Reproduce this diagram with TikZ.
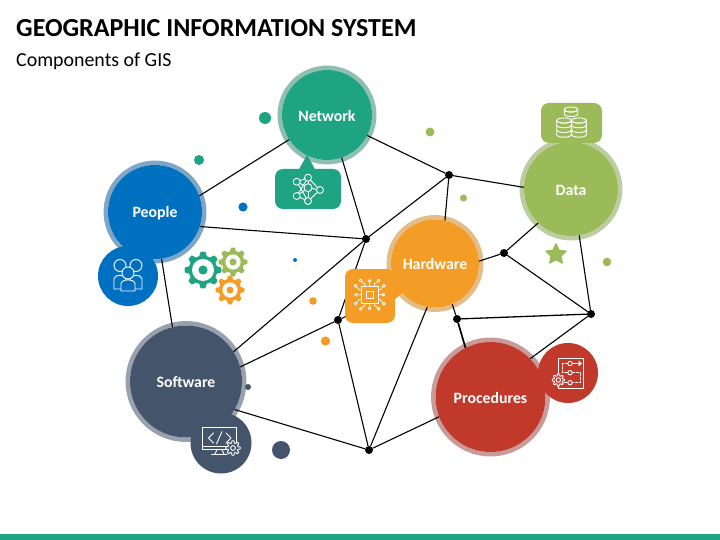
\documentclass[tikz,border=0pt]{standalone}
\usepackage{fontspec}
\setmainfont{Carlito}
\usetikzlibrary{shapes.geometric}
\pgfdeclarelayer{background}
\pgfsetlayers{background,main}
\definecolor{cnet}{HTML}{1FA483}\definecolor{rnet}{HTML}{8FBFB1}
\definecolor{cpeo}{HTML}{0070C0}\definecolor{rpeo}{HTML}{7FA6C6}
\definecolor{cdat}{HTML}{9BBB59}\definecolor{rdat}{HTML}{BCCCA3}
\definecolor{char}{HTML}{F39C26}\definecolor{rhar}{HTML}{E3BC88}
\definecolor{csof}{HTML}{44546A}\definecolor{rsof}{HTML}{98A1AD}
\definecolor{cpro}{HTML}{C0392B}\definecolor{rpro}{HTML}{C79B98}
\tikzset{
  comp/.style n args={2}{circle,fill=#2,minimum size=2*#1 pt,inner sep=0pt,outer sep=0pt,text=white,font=\fontsize{15.8}{15.8}\selectfont\bfseries},
  junction/.style={circle,fill=black,minimum size=8pt,inner sep=0pt,outer sep=0pt},
  link/.style={draw=black,line width=1.1pt},
  bubble/.style={rectangle,rounded corners=8pt,inner sep=0pt,outer sep=0pt},
  iconline/.style={draw=white,line width=0.9pt,line cap=round,line join=round},
  ring/.style={line width=4.5pt}
}
\newcommand{\lab}[1]{\raisebox{-1pt}[\height][\depth]{#1}}
% gear: cx cy mean-radius tooth-amplitude teeth
\newcommand{\gearplot}[5]{plot[domain=0:360,samples=145,variable=\t]
  ({#1+(#3+#4*max(-1,min(1,2*cos(#5*\t))))*cos(\t)},{#2+(#3+#4*max(-1,min(1,2*cos(#5*\t))))*sin(\t)}) -- cycle}
% solid gear: cx cy R amp ringR dotR colour
\newcommand{\solidgear}[7]{%
  \fill[#7] \gearplot{#1}{#2}{#3}{#4}{8};
  \fill[white] (#1,#2) circle (#5);
  \fill[#7] (#1,#2) circle (#6);}
% coin stack: cx topy rx ry layerh layers
\newcommand{\coinstack}[6]{%
  \pgfmathsetmacro{\xl}{#1-#3}\pgfmathsetmacro{\xr}{#1+#3}
  \pgfmathsetmacro{\yb}{#2+#5*#6}
  \draw[iconline,fill=cdat] (\xl,#2) -- (\xl,\yb) .. controls (\xl,\yb+1.33*#4) and (\xr,\yb+1.33*#4) .. (\xr,\yb) -- (\xr,#2);
  \draw[iconline,fill=cdat] (#1,#2) ellipse (#3 and #4);
  \foreach \k in {1,...,#6}{
    \pgfmathsetmacro{\yy}{#2+#5*\k-#5}
    \draw[iconline] (\xl,\yy) .. controls (\xl,\yy+1.33*#4) and (\xr,\yy+1.33*#4) .. (\xr,\yy);
  }}
\begin{document}
\begin{tikzpicture}[x=1pt,y=-1pt]
\useasboundingbox (0,0) rectangle (720,540);
\fill[cnet] (0,534) rectangle (720,540);
\node[anchor=base west,inner sep=0pt,font=\fontsize{26}{26}\selectfont\bfseries] (title) at (16,37) {GEOGRAPHIC INFORMATION SYSTEM};
\node[anchor=base west,inner sep=0pt,font=\fontsize{19.9}{19.9}\selectfont] (subtitle) at (16,66.7) {Components of GIS};

% components
\node[comp={45}{cnet}] (network) at (327,115) {\lab{Network}};
\node[comp={47}{cpeo}] (people) at (155,212) {\lab{People}};
\node[comp={47}{cdat}] (data) at (571,189) {\lab{Data}};
\node[comp={44}{char}] (hardware) at (435,263.5) {\lab{Hardware}};
\node[comp={56}{csof}] (software) at (186,381.5) {\lab{Software}};
\node[comp={55}{cpro}] (procedures) at (490.5,397) {\lab{Procedures}};

% junctions
\node[junction] (j1) at (366,239) {};
\node[junction] (j2) at (449,175) {};
\node[junction] (j3) at (504,253) {};
\node[junction] (j4) at (591,314) {};
\node[junction] (j5) at (457,319) {};
\node[junction] (j6) at (338,320) {};
\node[junction] (j7) at (369,450) {};

\begin{pgfonlayer}{background}
\draw[ring,rnet] (network.center) circle (47.2);
\draw[ring,rpeo] (people.center) circle (49.2);
\draw[ring,rdat] (data.center) circle (49.2);
\draw[ring,rhar] (hardware.center) circle (46.2);
\draw[ring,rsof] (software.center) circle (58.2);
\draw[ring,rpro] (procedures.center) circle (57.2);
\draw[link] (people.20) -- (network.213);
\draw[link] (network.289) -- (j1);
\draw[link] (network.-27) -- (j2);
\draw[link] (data.178) -- (j2);
\draw[link] (hardware.77) -- (j2);
\draw[link] (j1) -- (j2);
\draw[link] (people.-18) -- (j1);
\draw[link] (j1) -- (j6);
\draw[link] (software.32) -- (j1);
\draw[link] (software.15) -- (j6);
\draw[link] (software.-30) -- (j7);
\draw[link] (people.-82) -- (software.104);
\draw[link] (j6) -- (j7);
\draw[link] (j6) -- (hardware.220);
\draw[link] (hardware.260) -- (j7);
\draw[link] (procedures.201) -- (j7);
\draw[link] (hardware.3) -- (j3);
\draw[link] (data.226) -- (j3);
\draw[link] (j3) -- (j4);
\draw[link] (data.-80) -- (j4);
\draw[link,line width=1.3pt] (j5) -- (j4);
\draw[link] (hardware.-67) -- (j5);
\draw[link,line width=1.7pt] (procedures.117) -- (j5);
\draw[link] (procedures.44) -- (j4);
\end{pgfonlayer}

% scattered dots
\fill[cnet] (265,118) circle (6);
\fill[cnet] (199,160) circle (5);
\fill[cpeo] (243,207) circle (4.6);
\fill[cpeo] (295,260) circle (2);
\fill[char] (313,301) circle (3.8);
\fill[char] (325.5,341) circle (4.6);
\fill[csof] (248,387) circle (3);
\fill[csof] (281,450) circle (9);
\fill[cdat] (430,132) circle (4.5);
\fill[cdat] (463.5,198) circle (3.5);
\fill[cdat] (607,262) circle (4.3);
\node[star,star points=5,star point ratio=2.1,fill=cdat,draw=cdat,line join=round,line width=1.5pt,minimum size=21pt,inner sep=0pt] (starmark) at (556,254.5) {};

% gears
\solidgear{203}{270}{16.3}{2}{11}{4.6}{cnet}
\solidgear{233}{262}{12.8}{1.7}{7.6}{3.5}{cdat}
\solidgear{230}{290}{12.8}{1.7}{7.6}{3.5}{char}

% network bubble
\fill[cnet] (298,171) -- (307,155) -- (316,171) -- cycle;
\node[bubble,fill=cnet,minimum width=66pt,minimum height=40pt] (netbub) at (308,189) {};
\foreach \a/\b in {296.7/181.7,296.7/196,308/177.7,320/190,308/201}{\draw[iconline] (308,187.7) -- (\a,\b);}
\draw[iconline] (296.7,181.7) -- (308,177.7) -- (320,190) -- (308,201) -- (296.7,196);
\draw[iconline] (296.7,181.7) -- (308,201);
\draw[iconline] (296.7,196) -- (308,177.7);
\foreach \a/\b/\r in {296.7/181.7/3.5,308/177.7/3.5,308/187.7/4,320/190/3.5,296.7/196/3.5,308/201/3.5}{\draw[iconline,fill=cnet] (\a,\b) circle (\r);}

% people icon
\node[circle,fill=cpeo,minimum size=60pt,inner sep=0pt] (peoicon) at (128,276) {};
\draw[iconline,fill=cpeo] (114,289) -- (114,279) .. controls (114,274) and (126,274) .. (126,279) -- (126,289) -- cycle;
\draw[iconline,fill=cpeo] (130,289) -- (130,279) .. controls (130,274) and (142,274) .. (142,279) -- (142,289) -- cycle;
\draw[iconline,fill=cpeo] (120,265.5) circle (6);
\draw[iconline,fill=cpeo] (136,265.5) circle (6);
\draw[iconline,fill=cpeo] (121,291) -- (121,284) .. controls (121,278.5) and (135,278.5) .. (135,284) -- (135,291) -- cycle;
\draw[iconline,fill=cpeo] (128,273) circle (6);

% software icon
\node[circle,fill=csof,minimum size=61pt,inner sep=0pt] (sofbub) at (221,443) {};
\draw[iconline] (202.5,427.5) rectangle (236,449.5);
\draw[iconline] (202.5,446) -- (236,446);
\draw[iconline] (217,449.5) -- (215,454) (222,449.5) -- (224,454) (211.5,454.5) -- (227,454.5);
\draw[iconline] (213.5,433) -- (208.5,438) -- (213.5,443);
\draw[iconline] (222,431.5) -- (216.5,444);
\draw[iconline] (226,433) -- (231,438) -- (226,443);
\draw[iconline,fill=csof] \gearplot{233}{448}{6.2}{1.1}{8};
\draw[iconline] (233,448) circle (2.4);

% hardware bubble
\fill[char] (388,271) -- (412,285) -- (394,300) -- cycle;
\node[bubble,fill=char,minimum width=50pt,minimum height=54pt] (harbub) at (370,296) {};
\draw[iconline] (361,286) rectangle (378.4,303.4);
\draw[iconline] (366,291) rectangle (373.4,298.4);
\foreach \r in {0,90,180,270}{
  \begin{scope}[shift={(369.7,294.7)},rotate=\r]
    \draw[iconline,line width=0.8pt] (0,-8.7) -- (0,-12.2) (-4.7,-8.7) -- (-4.7,-10.5) -- (-8,-13.2) (4.7,-8.7) -- (4.7,-10.5) -- (8,-13.2);
    \draw[iconline,line width=0.8pt] (0,-13.7) circle (1.4) (-9,-14.2) circle (1.4) (9,-14.2) circle (1.4);
  \end{scope}
}

% procedures icon
\node[circle,fill=cpro,minimum size=60pt,inner sep=0pt] (probub) at (568,373) {};
\draw[iconline] (558.3,374) -- (558.3,358.3) -- (583.5,358.3) -- (583.5,388.5) -- (558.3,388.5) -- (558.3,386);
\draw[iconline,dashed,dash pattern=on 2.5pt off 1.6pt] (567.5,363.5) -- (562.5,363.5) -- (562.5,372.7) -- (567.5,372.7);
\draw[iconline] (572.5,363.5) -- (581,363.5);
\fill[white] (582,363.5) -- (578.5,360.5) -- (578.5,366.5) -- cycle;
\draw[iconline,dashed,dash pattern=on 2.5pt off 1.6pt] (572.5,372.7) -- (580.5,372.7) -- (580.5,382.7) -- (573,382.7);
\draw[iconline] (567.5,382.7) -- (564,382.7);
\draw[iconline] (570,363.5) circle (2.2) (570,372.7) circle (2.2) (570,382.7) circle (2.2);
\draw[iconline,fill=cpro] \gearplot{558.3}{380}{5.2}{0.9}{8};
\draw[iconline] (558.3,380) circle (2.2);

% data bubble
\node[bubble,fill=cdat,minimum width=61pt,minimum height=40pt] (datbub) at (571.5,123) {};
\coinstack{571}{109.5}{6.7}{2.5}{4.5}{1}
\coinstack{564}{120.5}{7.3}{2.6}{4.7}{3}
\coinstack{579}{120.5}{7.3}{2.6}{4.7}{3}
\end{tikzpicture}
\end{document}
